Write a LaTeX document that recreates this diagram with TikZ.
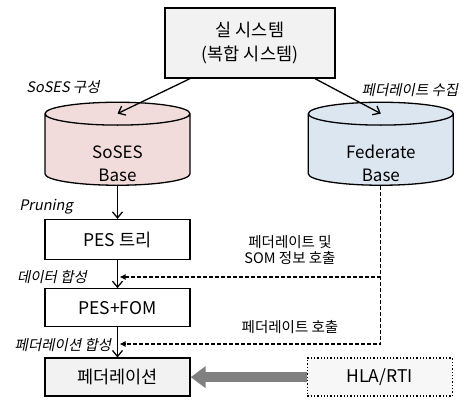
\documentclass[tikz,border=0pt]{standalone}
\usepackage{fontspec}
\setmainfont{Noto Sans CJK KR}
\newfontfamily\slantfont[FakeSlant=0.2]{Noto Sans CJK KR}
\usepackage{xcolor}
\usetikzlibrary{shapes.geometric, arrows.meta, positioning}

\definecolor{sosespink}{HTML}{F2DCDB}
\definecolor{fedblue}{HTML}{DCE6F1}
\definecolor{boxgray}{HTML}{F2F2F2}

\begin{document}
\begin{tikzpicture}[x=1pt, y=1pt]
\tikzstyle{box} = [rectangle, draw, line width=1.3pt, minimum width=145pt, align=center, font=\fontsize{17.5}{24}\selectfont]
\tikzstyle{base} = [cylinder, shape border rotate=90, draw, line width=1.3pt, aspect=0.3, minimum width=145pt, minimum height=83pt, align=center, font=\fontsize{17}{23}\selectfont]
\tikzstyle{basetext} = [align=center, font=\fontsize{17}{23}\selectfont]
\tikzstyle{note} = [font=\slantfont\fontsize{14.5}{17}\selectfont, inner sep=0pt]
\tikzstyle{call} = [font=\fontsize{14.5}{16.5}\selectfont, align=center, inner sep=0pt]
\tikzstyle{arrow} = [line width=1.3pt, -{Straight Barb[length=6pt,width=10pt]}]
\tikzstyle{dasharrow} = [line width=1.3pt, dash pattern=on 4pt off 2pt, -{Latex[length=6pt,width=6pt]}]
\tikzstyle{hlaarrow} = [line width=10pt, draw=black!50, -{Triangle[length=15pt,width=21pt]}]

\useasboundingbox (0,0) rectangle (471,401);

\node (real) [box, fill=boxgray, minimum width=170pt, minimum height=70pt] at (250,358) {실 시스템\\(복합 시스템)};

% cylinders keep their size from phantom text, the visible text sits lower
\node (soses) [base, fill=sosespink] at (117.5,249.5) {\phantom{Federate}\\\phantom{Base}};
\node (fedbase) [base, fill=fedblue, right=117pt of soses] {\phantom{Federate}\\\phantom{Base}};
\node (sosestext) [basetext] at ([yshift=-12pt]soses.center) {SoSES\\Base};
\node (fedtext) [basetext] at ([yshift=-12pt]fedbase.center) {Federate\\Base};

\node (pes) [box, minimum height=40pt, below=33pt of soses] {PES 트리};
\node (pesfom) [box, minimum height=38pt, below=28pt of pes] {PES+FOM};
\node (fedn) [box, fill=boxgray, minimum height=38pt, below=30pt of pesfom] {페더레이션};
\node (hla) [box, fill=boxgray!60, dotted, minimum height=38pt, right=116pt of fedn] {HLA/RTI};

% labels
\node (lsoses) [note] at (63,314) {SoSES 구성};
\node (lcollect) [note] at (410,311) {페더레이트 수집};
\node (lprune) [note] at (46,194) {Pruning};
\node (ldata) [note] at (52,124) {데이터 합성};
\node (lfed) [note] at (63,56) {페더레이션 합성};
\node (lcallA) [call] at (290,151) {페더레이트 및\\SOM 정보 호출};
\node (lcallB) [call] at (290,74) {페더레이트 호출};

\coordinate (y1) at (0,124);
\coordinate (y2) at (0,57);

\draw [arrow] ([xshift=-60pt]real.south) -- ([yshift=-12pt]soses.top);
\draw [arrow] ([xshift=65pt]real.south) -- ([yshift=-12pt]fedbase.top);
\draw [arrow] (soses.bottom) -- (pes);
\draw [arrow] (pes) -- (pesfom);
\draw [arrow] (pesfom) -- (fedn);

\draw [dasharrow] (fedbase.bottom) -- (fedbase.bottom |- y2) -- ([xshift=2pt]pesfom.south |- y2);
\draw [dasharrow] (fedbase.bottom |- y1) -- ([xshift=2pt]pes.south |- y1);

\draw [hlaarrow] (hla) -- (fedn);

\end{tikzpicture}
\end{document}
